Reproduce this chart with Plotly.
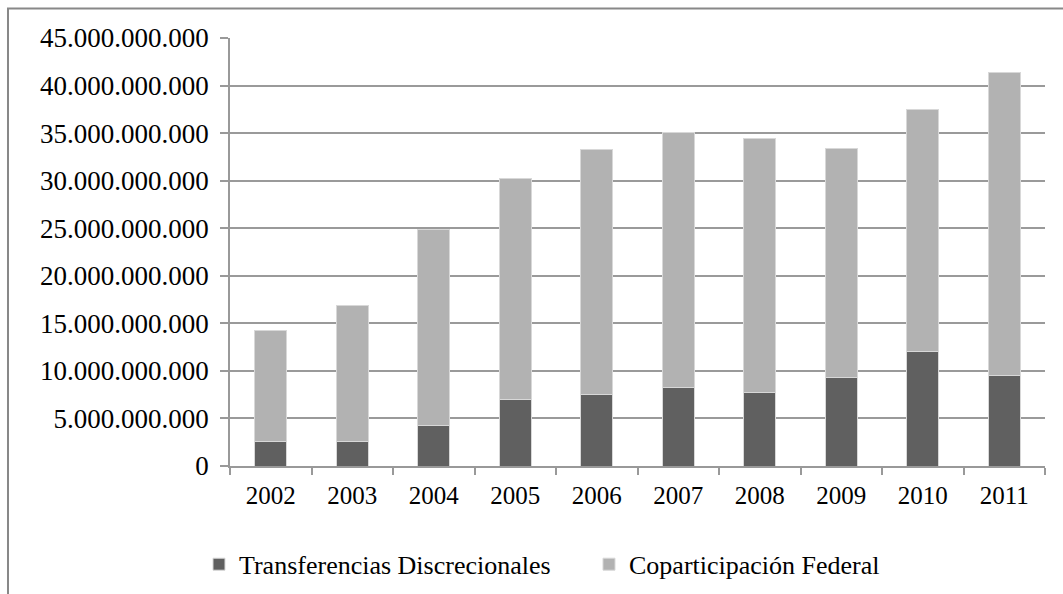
import plotly.graph_objects as go

years = ["2002", "2003", "2004", "2005", "2006", "2007", "2008", "2009", "2010", "2011"]
discrecionales = [2.6e9, 2.6e9, 4.28e9, 7.02e9, 7.5e9, 8.28e9, 7.76e9, 9.3e9, 12.0e9, 9.55e9]
totales = [14.28e9, 16.87e9, 24.9e9, 30.2e9, 33.3e9, 35.1e9, 34.45e9, 33.4e9, 37.5e9, 41.4e9]
coparticipacion = [t - d for t, d in zip(totales, discrecionales)]

y_ticks = [0, 5e9, 10e9, 15e9, 20e9, 25e9, 30e9, 35e9, 40e9, 45e9]
y_labels = ["0", "5.000.000.000", "10.000.000.000", "15.000.000.000", "20.000.000.000",
            "25.000.000.000", "30.000.000.000", "35.000.000.000", "40.000.000.000",
            "45.000.000.000"]

font = "Liberation Serif"

fig = go.Figure()
fig.add_trace(go.Bar(x=years, y=discrecionales, name="Transferencias Discrecionales",
                     marker=dict(color="#606060", line=dict(color="#d8d8d8", width=1))))
fig.add_trace(go.Bar(x=years, y=coparticipacion, name="Coparticipación Federal",
                     marker=dict(color="#b2b2b2", line=dict(color="#d8d8d8", width=1))))

fig.update_layout(
    barmode="stack",
    bargap=0.61,
    width=1063, height=594,
    margin=dict(l=230, r=18, t=38, b=128, autoexpand=False),
    paper_bgcolor="white", plot_bgcolor="white",
    font=dict(family=font, color="black"),
    legend=dict(orientation="h", xref="container", x=0.1872, xanchor="left",
                yref="container", y=0.05, yanchor="middle",
                font=dict(family=font, size=26), itemwidth=30, traceorder="normal",
                entrywidth=345, entrywidthmode="pixels"),
    showlegend=True,
    shapes=[dict(type="rect", xref="paper", yref="paper", x0=-0.2724, x1=1.2, y0=-0.6, y1=1.069,
                 line=dict(color="#888888", width=2), fillcolor="rgba(0,0,0,0)", layer="below")],
)
fig.update_xaxes(showline=True, linecolor="#999999", linewidth=1.5, ticks="outside",
                 tickson="boundaries", ticklen=7, tickcolor="#999999", tickwidth=1.5,
                 tickfont=dict(family=font, size=25), showgrid=False, ticklabelstandoff=6)
fig.update_yaxes(range=[0, 45e9], tickvals=y_ticks, ticktext=y_labels, showline=True,
                 linecolor="#999999", linewidth=1.5, ticks="outside", ticklen=8,
                 tickcolor="#999999", tickwidth=1.5, showgrid=True, gridcolor="#9a9a9a",
                 gridwidth=1.5, zeroline=False, tickfont=dict(family=font, size=27),
                 ticklabelstandoff=6)

fig.write_html("out.html", config={"displayModeBar": False},
               post_script="document.body.style.margin='0';document.body.style.overflow='hidden';")
